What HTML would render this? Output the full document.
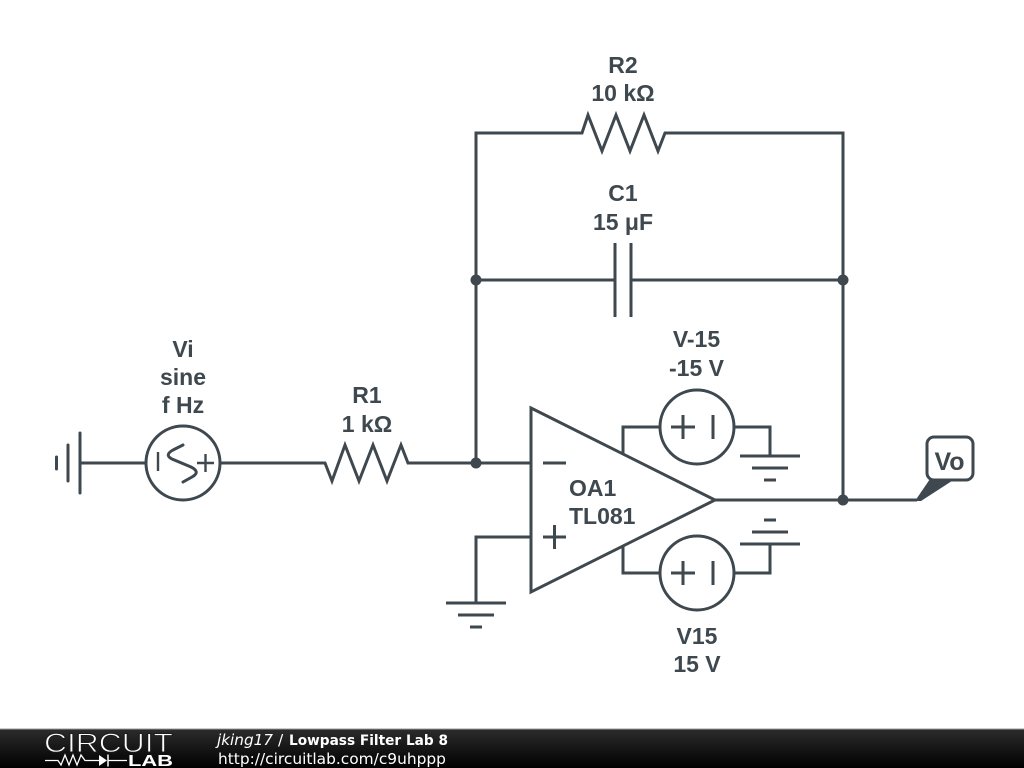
<!DOCTYPE html>
<html>
<head>
<meta charset="utf-8">
<style>
html,body{margin:0;padding:0;background:#fff;width:1024px;height:768px;overflow:hidden}
svg{display:block}
.w{fill:none;stroke:#3e484e;stroke-width:3;stroke-linejoin:miter;stroke-linecap:butt}
.r{stroke-linecap:round}
.t{fill:none;stroke:#3e484e;stroke-width:2.4;stroke-linecap:butt}
.l{font-family:"Liberation Sans",sans-serif;font-weight:bold;font-size:23px;fill:#3e484e;text-anchor:middle}
.f{font-family:"DejaVu Sans",sans-serif;font-size:15.4px;fill:#fff}
</style>
</head>
<body>
<svg width="1024" height="768" viewBox="0 0 1024 768" xmlns="http://www.w3.org/2000/svg">
<defs>
<linearGradient id="g" x1="0" y1="0" x2="0" y2="1">
<stop offset="0" stop-color="#2c2c2c"/><stop offset="0.5" stop-color="#161616"/><stop offset="1" stop-color="#000"/>
</linearGradient>
</defs>
<rect width="1024" height="768" fill="#fff"/>

<!-- left ground -->
<path class="w r" d="M80 433V493M68 445V481M56.500 457V469"/>
<path class="w" d="M80 463H146"/>
<!-- source Vi -->
<circle class="w" cx="183" cy="463" r="37"/>
<path class="t" d="M158 452V471M197 463H214M205.500 454V472"/>
<path class="w r" d="M183 445L173 450Q164 455 172 459L191 467Q201 472 192 477L183 482" style="stroke-width:3"/>
<path class="w" d="M220 463H325L332 481L345 445L359 481L373 445L387 481L401 445L408 463H531"/>

<!-- feedback -->
<path class="w" d="M476 463V133H582L588 115L602 151L616 115L630 151L644 115L658 151L665 133H843V500"/>
<path class="w" d="M476 280H615M631 280H843M615 243V317M631 243V317"/>

<!-- opamp -->
<path class="w" d="M531 408L715 500L531 592Z"/>
<path class="t" style="stroke-width:3" d="M543 463H566M543 537H566M554.500 525V549"/>
<path class="w" d="M531 537H476V603"/>
<path class="w" d="M446 603H506M458 615H494M470 627H482"/>

<!-- top supply -->
<path class="w" d="M623 454V427H660M734 427H770V456"/>
<circle class="w" cx="697" cy="427" r="37"/>
<path class="t" style="stroke-width:3" d="M671 427H695M683 415V439M713 415V439"/>
<path class="w" d="M740 456H800M752 468H788M764 480H776"/>

<!-- bottom supply -->
<path class="w" d="M623 546V573H660M734 573H770V544"/>
<circle class="w" cx="697" cy="573" r="37"/>
<path class="t" style="stroke-width:3" d="M671 573H695M683 561V585M713 561V585"/>
<path class="w" d="M740 544H800M752 532H788M764 520H776"/>

<!-- output -->
<path class="w" d="M715 500H917"/>
<path d="M915 501L930 479L955 479L921 501Z" fill="#3e484e"/>
<rect x="927" y="437" width="46" height="43" rx="7" fill="#fff" stroke="#3e484e" stroke-width="3"/>
<text class="l" x="949.500" y="470" style="font-size:25px">Vo</text>

<!-- nodes -->
<g fill="#3e484e">
<circle cx="476" cy="280" r="5.500"/><circle cx="843" cy="280" r="5.500"/>
<circle cx="476" cy="463" r="5.500"/><circle cx="843" cy="500" r="5.500"/>
</g>

<!-- labels -->
<text class="l" x="623" y="73">R2</text>
<text class="l" x="623" y="101">10 kΩ</text>
<text class="l" x="623" y="201">C1</text>
<text class="l" x="623" y="230">15 μF</text>
<text class="l" x="696.500" y="347">V-15</text>
<text class="l" x="696.500" y="376">-15 V</text>
<text class="l" x="697" y="644">V15</text>
<text class="l" x="697" y="672">15 V</text>
<text class="l" x="183" y="357">Vi</text>
<text class="l" x="183" y="385">sine</text>
<text class="l" x="183" y="413">f Hz</text>
<text class="l" x="367" y="403">R1</text>
<text class="l" x="367" y="432">1 kΩ</text>
<text class="l" x="569" y="496" style="text-anchor:start">OA1</text>
<text class="l" x="569" y="524" style="text-anchor:start">TL081</text>

<!-- footer -->
<rect x="0" y="729" width="1024" height="39" fill="url(#g)"/>
<rect x="0" y="728.500" width="1024" height="1" fill="#999"/>
<text x="44" y="752" textLength="129" lengthAdjust="spacingAndGlyphs" style="font-family:'Liberation Sans',sans-serif;font-size:26.500px;fill:#fff;stroke:#1c1c1c;stroke-width:0.900">CIRCUIT</text>
<path d="M45 760.500H58L61 765L65 755L69 765L73 755L77 765L81 755L85 760.500H99M108 760.500H127" fill="none" stroke="#fff" stroke-width="1.300"/>
<path d="M99 755L107 760.500L99 766Z" fill="#fff"/>
<path d="M108 754.500V766.500" stroke="#fff" stroke-width="1.500"/>
<text x="128" y="766" textLength="45" lengthAdjust="spacingAndGlyphs" style="font-family:'Liberation Sans',sans-serif;font-weight:bold;font-size:15.500px;fill:#fff">LAB</text>
<text class="f" x="217" y="745" font-style="italic" textLength="56" lengthAdjust="spacingAndGlyphs">jking17</text>
<text class="f" x="278" y="745">/</text>
<text class="f" x="289" y="745" font-weight="bold" textLength="159" lengthAdjust="spacingAndGlyphs" style="font-size:14.500px">Lowpass Filter Lab 8</text>
<text class="f" x="218" y="764">http://circuitlab.com/c9uhppp</text>
</svg>
</body>
</html>
